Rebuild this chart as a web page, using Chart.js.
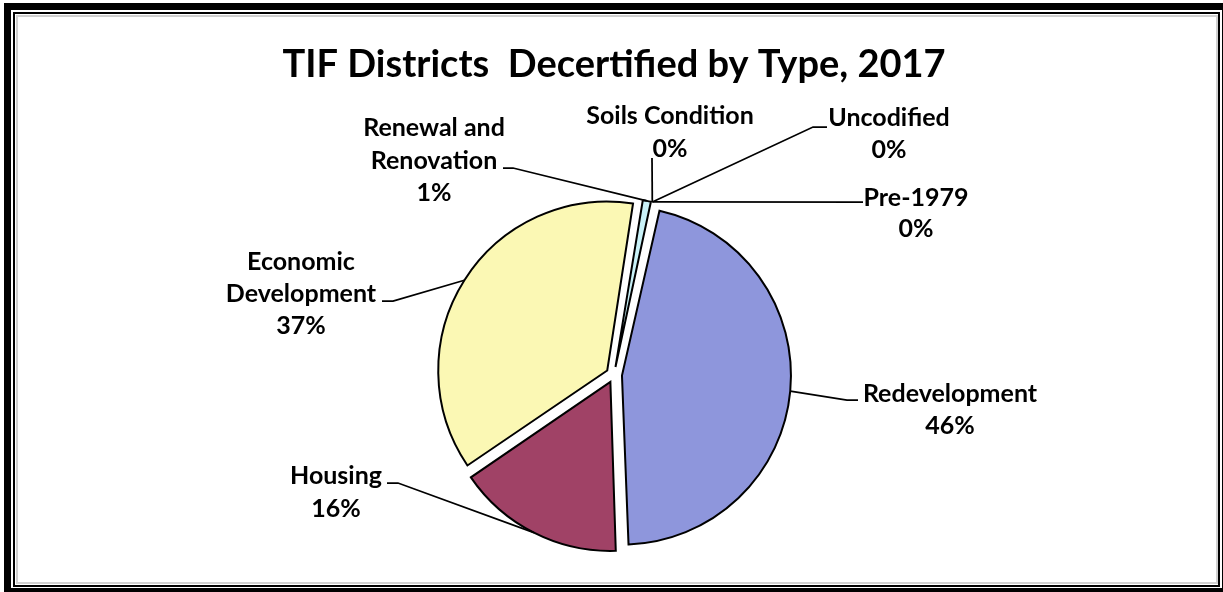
<!DOCTYPE html>
<html>
<head>
<meta charset="utf-8">
<script src="https://cdn.jsdelivr.net/npm/chart.js"></script>
<style>
  html, body { margin: 0; padding: 0; background: #fff; overflow: hidden; }
  .frame { position: absolute; box-sizing: border-box; }
  #f1 { left: 4px; top: 3px; width: 1225px; height: 592px; border: 7px solid #000; }
  #f2 { left: 13px; top: 12px; width: 1207px; height: 575px; border: 2px solid #000; }
  #f3 { left: 16px; top: 15px; width: 1202px; height: 569px; border: 2px solid #d0d0d0; }
  #wrap { position: absolute; left: 0; top: 0; width: 1223px; height: 592px; }
</style>
</head>
<body>
<div class="frame" id="f1"></div>
<div class="frame" id="f2"></div>
<div class="frame" id="f3"></div>
<div id="wrap"><canvas id="pie"></canvas></div>
<script>
// share of decertified districts, percent (as labelled)
const categories = ['Redevelopment', 'Housing', ['Economic', 'Development'], ['Renewal and', 'Renovation'],
                    'Soils Condition', 'Uncodified', 'Pre-1979'];
const shares = [46, 16, 37, 1, 0, 0, 0];
const sliceColors = ['#8E96DC', '#A04266', '#FBF8B4', '#C9F2F8', '#660066', '#FF8080', '#0066CC'];

const R = 169;        // pie radius
const EXPLODE = 8;    // px each slice is pulled out
const FONT = 'Lato, "Open Sans", sans-serif';

// where each data label sits, and the stub of its leader line
const labelLayout = [
    { x: 950, ys: [394, 426], stub: [[858, 400], [847, 400]] },
    { x: 336, ys: [476, 509], stub: [[387, 483], [398, 483]] },
    { x: 301, ys: [262, 294, 326], stub: [[382, 301], [393, 301]] },
    { x: 434, ys: [128, 161, 193], stub: [[503, 168], [513, 168]] },
    { x: 670, ys: [116, 149], stub: [[652, 158]] },
    { x: 889, ys: [118, 150], stub: [[827, 127], [813, 127]] },
    { x: 916, ys: [198, 229], stub: [[863, 202]] }
];

// chart.js grows the radius of offset arcs; pull them back so all slices share R
const evenRadius = {
    id: 'evenRadius',
    beforeDatasetsDraw(chart) {
        chart.getDatasetMeta(0).data.forEach(function(arc) {
            const off = (arc.options.offset || 0) / 4;
            const fix = 1 - Math.sin(Math.min(Math.PI, arc.circumference || 0));
            arc.outerRadius = R - off * fix;
        });
    }
};

const leaderLabels = {
    id: 'leaderLabels',
    afterDatasetsDraw(chart) {
        const ctx = chart.ctx;
        const meta = chart.getDatasetMeta(0);
        const total = shares.reduce((a, b) => a + b, 0);
        ctx.save();
        meta.data.forEach(function(arc, i) {
            const lay = labelLayout[i];
            const mid = (arc.startAngle + arc.endAngle) / 2;
            const dist = (arc.options.offset || 0) / 4 + R;
            const px = arc.x + Math.cos(mid) * dist;
            const py = arc.y + Math.sin(mid) * dist;

            ctx.strokeStyle = '#000';
            ctx.lineWidth = 1.75;
            ctx.beginPath();
            ctx.moveTo(lay.stub[0][0], lay.stub[0][1]);
            for (let k = 1; k < lay.stub.length; k++) ctx.lineTo(lay.stub[k][0], lay.stub[k][1]);
            ctx.lineTo(px, py);
            ctx.stroke();

            const name = categories[i];
            const lines = (Array.isArray(name) ? name.slice() : [name]);
            lines.push(Math.round(shares[i] / total * 100) + '%');
            ctx.fillStyle = '#000';
            ctx.font = 'bold 25px ' + FONT;
            ctx.textAlign = 'center';
            ctx.textBaseline = 'middle';
            lines.forEach(function(t, k) { ctx.fillText(t, lay.x, lay.ys[k]); });
        });
        ctx.restore();
    }
};

const chart = new Chart(document.getElementById('pie'), {
    type: 'pie',
    data: {
        labels: categories,
        datasets: [{
            data: shares,
            backgroundColor: sliceColors,
            borderColor: '#000',
            borderWidth: 2,
            borderJoinStyle: 'miter',
            offset: EXPLODE * 4,
            radius: R
        }]
    },
    options: {
        responsive: true,
        maintainAspectRatio: false,
        animation: false,
        rotation: 12.5,
        layout: { padding: { top: 0, bottom: 12, left: 10, right: 5 } },
        plugins: {
            legend: { display: false },
            tooltip: { enabled: false },
            title: {
                display: true,
                text: 'TIF Districts  Decertified by Type, 2017',
                color: '#000',
                font: { family: FONT, size: 38, weight: 'bold', lineHeight: 1.2 },
                padding: { top: 42, bottom: 82 }
            }
        }
    },
    plugins: [evenRadius, leaderLabels]
});
</script>
</body>
</html>
